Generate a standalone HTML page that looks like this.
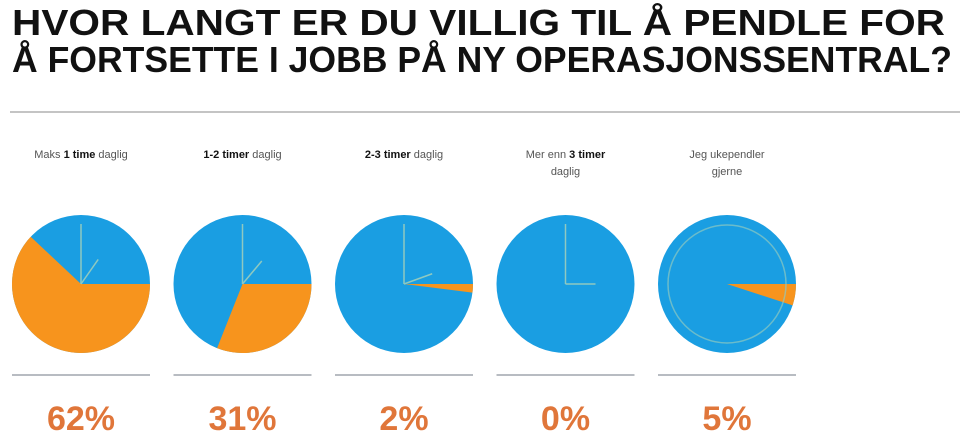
<!DOCTYPE html>
<html><head><meta charset="utf-8">
<style>
html,body{margin:0;padding:0;background:#fff;}
svg{display:block;font-family:"Liberation Sans",sans-serif;}
</style></head>
<body>
<svg id="chart" width="960" height="444" viewBox="0 0 960 444">
  <g font-weight="bold" fill="#111" font-size="36">
    <text x="12" y="35" textLength="933" lengthAdjust="spacingAndGlyphs">HVOR LANGT ER DU VILLIG TIL Å PENDLE FOR</text>
    <text x="12" y="72" textLength="940" lengthAdjust="spacingAndGlyphs">Å FORTSETTE I JOBB PÅ NY OPERASJONSSENTRAL?</text>
  </g>
  <line x1="10" y1="112" x2="960" y2="112" stroke="#c4c4c4" stroke-width="2"/>
  <g id="pies"></g>
</svg>
<script>
const categories = ["Maks 1 time daglig","1-2 timer daglig","2-3 timer daglig","Mer enn 3 timer daglig","Jeg ukependler gjerne"];
const labelLines = [
  [["Maks ","1 time"," daglig"]],
  [["","1-2 timer"," daglig"]],
  [["","2-3 timer"," daglig"]],
  [["Mer enn ","3 timer",""],["daglig","",""]],
  [["Jeg ukependler","",""],["gjerne","",""]]
];
const values = [62, 31, 2, 0, 5];
const valueLabels = ["62%","31%","2%","0%","5%"];

const NS = "http://www.w3.org/2000/svg";
const g = document.getElementById("pies");
const x0 = 81, dx = 161.5, cy = 284, r = 69;
const xScale = i => x0 + i * dx;
const angleScale = v => v / 100 * Math.PI * 2;
function mk(tag, attrs){const e=document.createElementNS(NS,tag);for(const k in attrs)e.setAttribute(k,attrs[k]);return e;}

categories.forEach((c, i) => {
  const cx = xScale(i);
  const grp = mk("g", {});
  
  
  // label
  labelLines[i].forEach((ln, j) => {
    const t = mk("text", {x: cx, y: 158 + j*17, "text-anchor": "middle", "font-size": "11", fill: "#555"});
    
    
    ln.forEach((part, k) => {
      if (!part) return;
      const s = mk("tspan", k === 1 ? {"font-weight": "bold", fill: "#111"} : {});
      s.textContent = part;
      t.appendChild(s);
    });
    grp.appendChild(t);
  });
  // base circle
  const base = mk("circle", {cx, cy, r, fill: "#1a9ee2"});
  
  
  grp.appendChild(base);
  // orange slice, clockwise from 3 o'clock
  const v = values[i];
  if (v > 0) {
    const a = angleScale(v);
    const ex = cx + r * Math.cos(a), ey = cy + r * Math.sin(a);
    const large = a > Math.PI ? 1 : 0;
    const p = mk("path", {d: `M${cx},${cy} L${cx + r},${cy} A${r},${r} 0 ${large} 1 ${ex},${ey} Z`, fill: "#f7941d"});
    
    
    grp.appendChild(p);
  }
  // clock hands
  const hc = "#8fc9c0";
  if (i === 4) {
    const ring = mk("circle", {cx, cy, r: r - 10, fill: "none", stroke: hc, "stroke-width": 1.5, opacity: 0.7});
    
    
    grp.appendChild(ring);
  } else {
    const h1 = mk("line", {x1: cx, y1: cy, x2: cx, y2: cy - 60, stroke: hc, "stroke-width": 1.5});
    
    
    grp.appendChild(h1);
    const ang = [-55, -50, -20, 0][i] * Math.PI / 180;
    const len = [30, 30, 30, 30][i];
    const h2 = mk("line", {x1: cx, y1: cy, x2: cx + len * Math.cos(ang), y2: cy + len * Math.sin(ang), stroke: hc, "stroke-width": 1.5});
    
    
    grp.appendChild(h2);
  }
  // rule
  const ru = mk("line", {x1: cx - 69, y1: 375, x2: cx + 69, y2: 375, stroke: "#b8bcc2", "stroke-width": 2});
  
  
  grp.appendChild(ru);
  // value
  const vt = mk("text", {x: cx, y: 430, "text-anchor": "middle", "font-size": "34", "font-weight": "bold", fill: "#e0763a"});
  
  
  vt.textContent = valueLabels[i];
  grp.appendChild(vt);
  g.appendChild(grp);
});
</script>
</body></html>
